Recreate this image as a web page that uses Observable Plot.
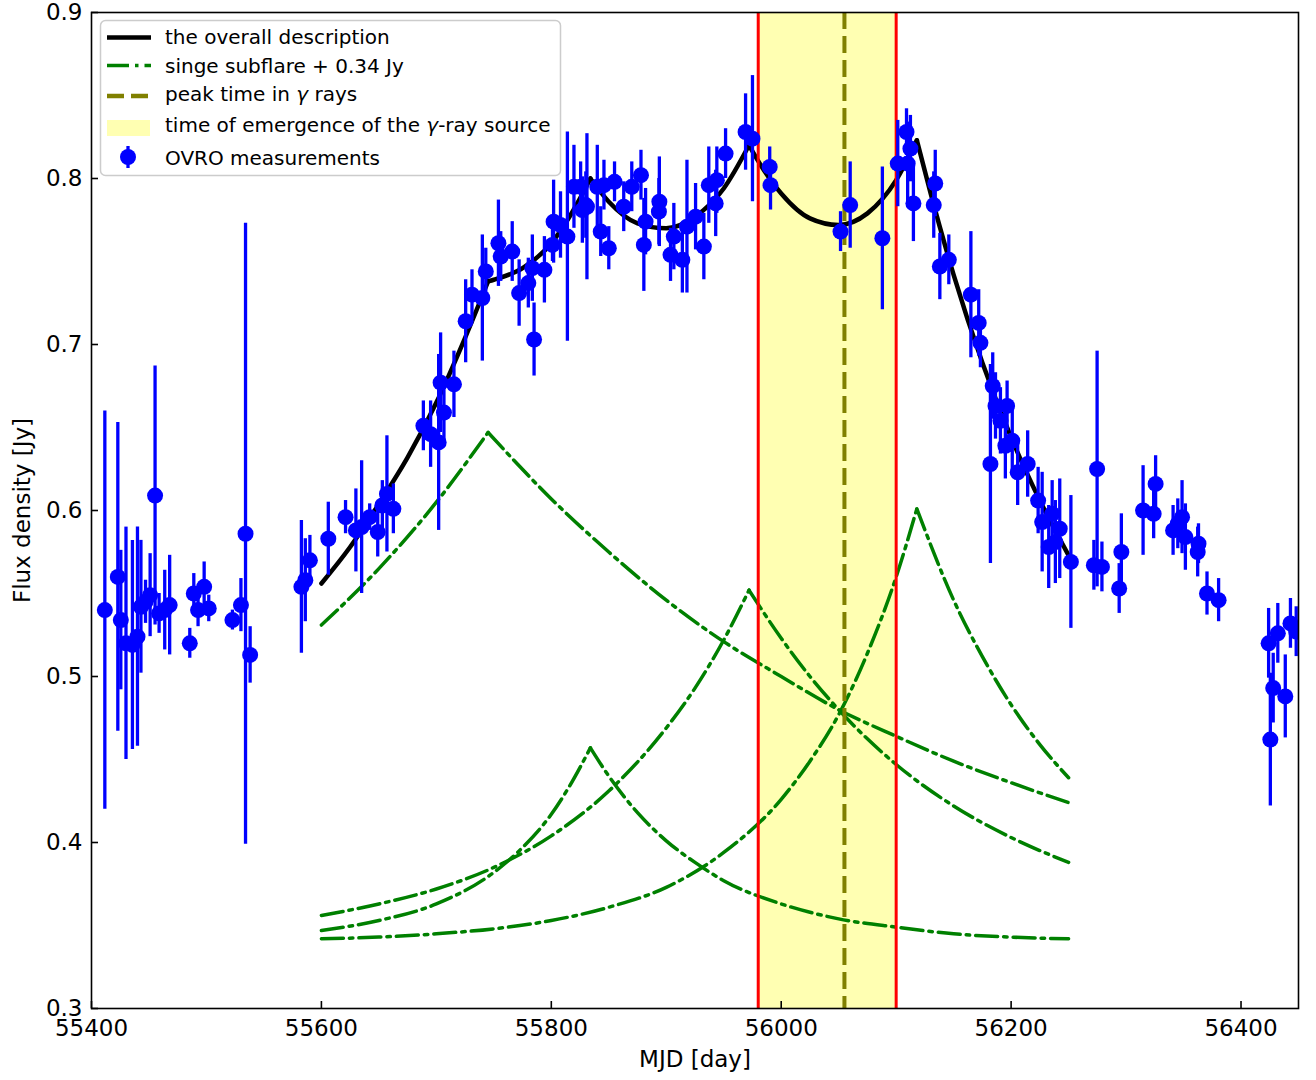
<!DOCTYPE html>
<html>
<head>
<meta charset="utf-8">
<script src="https://cdn.jsdelivr.net/npm/d3@7"></script>
<script src="https://cdn.jsdelivr.net/npm/@observablehq/plot@0.6"></script>
<style>
  body { margin: 0; background: #fff; font-family: "DejaVu Sans", sans-serif; }
  #wrap { position: relative; width: 1316px; height: 1080px; }
  #legend { position: absolute; left: 0; top: 0; pointer-events: none; }
</style>
</head>
<body>
<div id="wrap"></div>
<script>
// ---------------- data ----------------
// OVRO measurements (MJD, flux density Jy, 1-sigma error)
const ovroMJD = [
  55411.6,55422.9,55425.5,55430.0,55435.6,55440.0,55443.0,55447.0,55451.0,55455.3,55458.8,55463.7,55468.0,
  55485.5,55489.0,55492.7,55498.0,55502.0,55522.6,55530.0,55534.0,55538.0,
  55582.6,55586.0,55590.0,55606.0,55621.0,55630.0,55635.0,55642.0,55649.0,55653.0,55657.0,55662.6,
  55688.7,55695.0,55702.0,55703.7,55706.6,55715.3,55725.5,55731.0,55740.0,55743.0,55754.0,55756.0,
  55766.0,55772.0,55780.0,55783.5,55785.0,55794.0,55801.0,55802.0,55808.0,55814.0,55819.7,55825.5,
  55827.0,55830.0,55831.0,55840.0,55843.0,55845.8,55850.0,55855.0,55863.0,55870.0,55878.0,55880.5,
  55882.0,55893.6,55894.0,55903.7,55906.6,55914.0,55918.0,55925.5,55932.7,55937.0,55943.0,55944.0,
  55951.6,55969.0,55975.0,55990.0,55990.7,
  56051.6,56060.0,56088.0,56101.4,56109.0,56110.0,56112.4,56115.0,56132.7,56134.0,56138.0,56145.8,
  56165.0,56171.8,56173.3,56182.0,56184.0,56186.4,56190.7,56195.0,56196.5,56201.0,56205.7,56214.4,
  56223.5,56227.0,56232.7,56235.7,56238.5,56242.3,56252.0,56272.0,56274.8,56279.0,56294.0,56295.9,
  56314.8,56324.0,56325.7,56340.9,56345.0,56348.7,56351.6,56362.3,56363.0,56370.4,56380.5,
  56424.0,56425.5,56428.0,56432.0,56438.5,56443.0,56448.0
];
const ovroFlux = [
  0.540,0.560,0.534,0.520,0.519,0.524,0.542,0.545,0.549,0.609,0.538,0.540,0.543,
  0.520,0.550,0.540,0.554,0.541,0.534,0.543,0.586,0.513,
  0.554,0.558,0.570,0.583,0.596,0.588,0.590,0.596,0.587,0.603,0.610,0.601,
  0.651,0.646,0.641,0.677,0.659,0.676,0.714,0.730,0.728,0.744,0.761,0.753,
  0.756,0.731,0.737,0.746,0.703,0.745,0.760,0.774,0.772,0.765,0.795,0.795,
  0.781,0.784,0.783,0.795,0.768,0.796,0.758,0.798,0.783,0.795,0.802,0.760,
  0.774,0.780,0.786,0.754,0.765,0.751,0.771,0.777,0.759,0.796,0.785,0.799,
  0.815,0.828,0.824,0.807,0.796,
  0.768,0.784,0.764,0.809,0.828,0.809,0.818,0.785,0.784,0.797,0.747,0.751,
  0.730,0.713,0.701,0.628,0.675,0.663,0.654,0.639,0.663,0.642,0.623,0.628,
  0.606,0.593,0.578,0.598,0.581,0.589,0.569,0.567,0.625,0.566,0.553,0.575,
  0.600,0.598,0.616,0.588,0.592,0.596,0.584,0.575,0.580,0.550,0.546,
  0.520,0.462,0.493,0.526,0.488,0.532,0.527
];
const ovroErr = [
  0.120,0.093,0.042,0.070,0.063,0.066,0.040,0.013,0.025,0.078,0.012,0.024,0.030,
  0.009,0.012,0.010,0.015,0.008,0.006,0.016,0.187,0.017,
  0.040,0.025,0.015,0.022,0.010,0.025,0.040,0.008,0.015,0.015,0.035,0.015,
  0.015,0.020,0.053,0.030,0.020,0.020,0.025,0.015,0.038,0.014,0.026,0.015,
  0.018,0.020,0.015,0.020,0.022,0.020,0.010,0.025,0.020,0.063,0.025,0.015,
  0.020,0.020,0.044,0.025,0.015,0.015,0.013,0.012,0.015,0.015,0.015,0.028,
  0.020,0.020,0.027,0.016,0.020,0.020,0.040,0.020,0.020,0.023,0.020,0.020,
  0.015,0.023,0.038,0.012,0.015,
  0.012,0.026,0.043,0.026,0.014,0.025,0.020,0.023,0.020,0.020,0.020,0.015,
  0.038,0.020,0.015,0.060,0.020,0.020,0.020,0.020,0.015,0.020,0.020,0.020,
  0.020,0.030,0.025,0.020,0.025,0.030,0.040,0.015,0.071,0.015,0.015,0.023,
  0.027,0.015,0.017,0.015,0.015,0.022,0.020,0.015,0.012,0.013,0.013,
  0.021,0.040,0.021,0.018,0.025,0.015,0.015
];

// overall description (black curve); it has kinks at the subflare peaks
const overallMJD  = [55600,55625,55650,55675,55700,55725,55745,55750,55775,55800,55825,55834,55850,55875,55900,55925,55950,55972,55985,56000,56025,56050,56075,56100,56118,56130,56150,56175,56200,56225,56250];
const overallFlux = [0.556,0.578,0.604,0.632,0.665,0.704,0.738,0.739,0.746,0.761,0.788,0.800,0.786,0.773,0.770,0.777,0.794,0.820,0.805,0.791,0.776,0.772,0.779,0.799,0.823,0.791,0.742,0.689,0.644,0.606,0.573];
const overallKinks = [55745, 55834, 55972, 56118];

// single subflares + 0.34 Jy (green dash-dot)
const sub1MJD  = [55600,55650,55700,55745,55800,55850,55900,55950,56000,56050,56100,56150,56200,56250];
const sub1Flux = [0.531,0.565,0.605,0.647,0.607,0.575,0.546,0.521,0.500,0.480,0.464,0.449,0.436,0.424];
const sub2MJD  = [55600,55650,55700,55750,55775,55800,55815,55834,55850,55875,55900,55925,55950,56000,56050,56100,56150,56200,56250];
const sub2Flux = [0.347,0.353,0.363,0.382,0.397,0.417,0.433,0.457,0.440,0.418,0.401,0.388,0.377,0.363,0.354,0.349,0.345,0.343,0.342];
const sub3MJD  = [55600,55650,55700,55750,55800,55850,55900,55925,55950,55972,56000,56025,56050,56100,56150,56200,56250];
const sub3Flux = [0.356,0.363,0.372,0.385,0.404,0.431,0.469,0.493,0.522,0.552,0.523,0.500,0.480,0.447,0.422,0.403,0.388];
const sub4MJD  = [55600,55650,55700,55750,55800,55850,55900,55950,56000,56025,56050,56075,56100,56118,56150,56175,56200,56225,56250];
const sub4Flux = [0.342,0.343,0.345,0.348,0.353,0.361,0.373,0.394,0.426,0.449,0.477,0.514,0.560,0.601,0.546,0.512,0.483,0.459,0.439];

// gamma-ray related times
const emergenceStart = [55980];
const emergenceEnd   = [56100];
const gammaPeakMJD   = [56055];

// axis ticks
const xTicks = [55400, 55600, 55800, 56000, 56200, 56400];
const yTicks = [0.3, 0.4, 0.5, 0.6, 0.7, 0.8, 0.9];

// legend labels
const legendLabels = [
  "the overall description",
  "singe subflare + 0.34 Jy",
  "peak time in γ rays",
  "time of emergence of the γ-ray source",
  "OVRO measurements"
];

// ---------------- build tables ----------------
const ovro = ovroMJD.map((t, i) => ({t, f: ovroFlux[i], e: ovroErr[i]}));

// split the overall curve into smooth pieces between kinks (kink points shared)
const overall = [];
overallMJD.forEach((t, i) => {
  let seg = overallKinks.filter(k => t > k).length;
  overall.push({t, f: overallFlux[i], seg});
  if (overallKinks.includes(t)) overall.push({t, f: overallFlux[i], seg: seg + 1});
});

const subs = [[sub1MJD, sub1Flux], [sub2MJD, sub2Flux], [sub3MJD, sub3Flux], [sub4MJD, sub4Flux]];
const subRows = [];
subs.forEach(([ts, fs], k) => {
  const ip = fs.indexOf(Math.max(...fs));
  ts.forEach((t, i) => {
    if (i <= ip) subRows.push({t, f: fs[i], key: k + "r"});
    if (i >= ip) subRows.push({t, f: fs[i], key: k + "d"});
  });
});
const span = emergenceStart.map((s, i) => ({start: s, end: emergenceEnd[i]}));
const spanEdges = [...emergenceStart, ...emergenceEnd];

const W = 1316, H = 1080, ML = 91, MR = 18, MT = 12, MB = 72;
const innerW = W - ML - MR, innerH = H - MT - MB;

const chart = Plot.plot({
  width: W, height: H,
  marginLeft: ML, marginRight: MR, marginTop: MT, marginBottom: MB,
  x: {domain: [55400, 56450]},
  y: {domain: [0.3, 0.9]},
  style: {fontFamily: "DejaVu Sans", fontSize: "23px", background: "white", color: "black"},
  marks: [
    Plot.rect(span, {x1: "start", x2: "end", fill: "#ffffb2"}),
    Plot.line(subRows, {x: "t", y: "f", z: "key", stroke: "green", strokeWidth: 3.5,
      strokeDasharray: "22,6,3.5,6", curve: "monotone-x"}),
    Plot.line(overall, {x: "t", y: "f", z: "seg", stroke: "black", strokeWidth: 4.5,
      curve: "monotone-x", strokeLinejoin: "round"}),
    Plot.ruleX(gammaPeakMJD, {x: d => d, stroke: "#808000", strokeWidth: 4, strokeDasharray: "17,7"}),
    Plot.ruleX(spanEdges, {x: d => d, stroke: "red", strokeWidth: 3}),
    Plot.ruleX(ovro, {x: "t", y1: d => d.f - d.e, y2: d => d.f + d.e, stroke: "blue", strokeWidth: 3.3, clip: true}),
    Plot.dot(ovro, {x: "t", y: "f", r: 8, fill: "blue", stroke: "none", clip: true}),
    Plot.frame({stroke: "black", strokeWidth: 1.6}),
    Plot.tickX(xTicks, {x: d => d, insetTop: innerH - 7, stroke: "black", strokeWidth: 1.6}),
    Plot.tickY(yTicks, {y: d => d, insetRight: innerW - 7, stroke: "black", strokeWidth: 1.6}),
    Plot.axisX({ticks: xTicks, tickSize: 0, tickPadding: 11, tickFormat: d3.format("d"),
      label: "MJD [day]", labelAnchor: "center", labelArrow: "none", labelOffset: 58}),
    Plot.axisY({ticks: yTicks, tickSize: 0, tickPadding: 9, tickFormat: d3.format(".1f"),
      label: "Flux density [Jy]", labelAnchor: "center", labelArrow: "none", labelOffset: 78})
  ]
});
const wrap = document.getElementById("wrap");
wrap.appendChild(chart);

// ---------------- legend (overlay inside plot area) ----------------
const ns = "http://www.w3.org/2000/svg";
const lg = document.createElementNS(ns, "svg");
lg.setAttribute("id", "legend");
lg.setAttribute("width", 600);
lg.setAttribute("height", 190);
lg.style.fontFamily = "DejaVu Sans";
lg.style.fontSize = "20px";
function el(tag, attrs, parent) {
  const e = document.createElementNS(ns, tag);
  for (const k in attrs) e.setAttribute(k, attrs[k]);
  (parent || lg).appendChild(e);
  return e;
}
el("rect", {x: 100.5, y: 20.5, width: 460, height: 155, rx: 5, fill: "white", "fill-opacity": 0.8, stroke: "#cccccc", "stroke-width": 1.5});
el("line", {x1: 107, x2: 151, y1: 37.5, y2: 37.5, stroke: "black", "stroke-width": 4.5});
el("line", {x1: 107, x2: 151, y1: 65.5, y2: 65.5, stroke: "green", "stroke-width": 3.5, "stroke-dasharray": "22,6,3.5,6"});
el("line", {x1: 107, x2: 151, y1: 96, y2: 96, stroke: "#808000", "stroke-width": 4.5, "stroke-dasharray": "17,7"});
el("rect", {x: 107, y: 120, width: 43, height: 16, fill: "#ffffb2"});
el("line", {x1: 128, x2: 128, y1: 146, y2: 168, stroke: "blue", "stroke-width": 3.3});
el("circle", {cx: 128, cy: 157, r: 8, fill: "blue"});
const baselines = [44, 72.5, 101, 132, 165];
legendLabels.forEach((lab, i) => {
  const t = el("text", {x: 165, y: baselines[i], fill: "black"});
  const parts = lab.split("γ");
  parts.forEach((p, j) => {
    if (j > 0) { const g = el("tspan", {"font-style": "italic"}, t); g.textContent = "γ"; }
    const s = el("tspan", {}, t); s.textContent = p;
  });
});
wrap.appendChild(lg);
</script>
</body>
</html>
